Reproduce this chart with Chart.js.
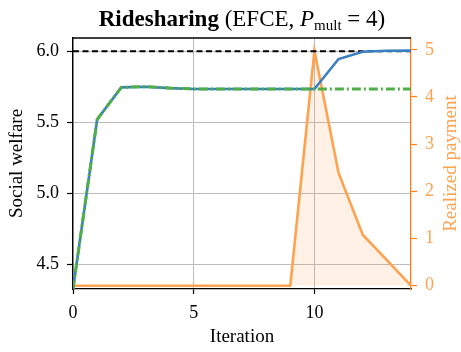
<!DOCTYPE html>
<html>
<head>
<meta charset="utf-8">
<script src="https://cdn.jsdelivr.net/npm/chart.js@4/dist/chart.umd.min.js"></script>
<style>
  html, body { margin:0; padding:0; background:#fff; }
  #wrap { position:relative; width:461px; height:352px; }
  #title { position:absolute; left:73px; width:338px; top:6px; text-align:center;
           font-family:"Liberation Serif", serif; font-size:23px; color:#000; white-space:nowrap; }
  #title sub { font-size:15px; vertical-align:-4px; line-height:0; }
</style>
</head>
<body>
<div id="wrap">
  <canvas id="c" width="461" height="352"></canvas>
  <div id="title"><b>Ridesharing</b> (EFCE, <i>P</i><sub>mult</sub> = 4)</div>
</div>
<script>
// données
const iterations = [0,1,2,3,4,5,6,7,8,9,10,11,12,13,14];
const welfare      = [4.326,5.52,5.746,5.751,5.741,5.735,5.735,5.735,5.735,5.735,5.735,5.946,5.997,6.004,6.005];
const welfareNoPay = [4.326,5.52,5.746,5.751,5.741,5.735,5.735,5.735,5.735,5.735,5.735,5.735,5.735,5.735,5.735];
const payment      = [0,0,0,0,0,0,0,0,0,0,4.98,2.39,1.08,0.54,0];
const optimum = 6.0;
const welfareTicks = [4.5, 5.0, 5.5, 6.0];

const pts = arr => iterations.map((x,i)=>({x:x, y:arr[i]}));
const serif = "'Liberation Serif', serif";
const ORANGE = '#ff7f0e', ORANGE_L = '#ffa24f';

// titres des axes + cadre du haut
const axisTitles = {
  id:'axisTitles',
  afterDraw(chart) {
    const ctx = chart.ctx, a = chart.chartArea;
    ctx.save();
    ctx.strokeStyle = '#000'; ctx.lineWidth = 1.3;
    ctx.beginPath(); ctx.moveTo(a.left, a.top); ctx.lineTo(a.right, a.top); ctx.stroke();
    ctx.font = "19px " + serif;
    ctx.textAlign = 'center'; ctx.textBaseline = 'middle';
    ctx.fillStyle = '#000';
    ctx.fillText('Iteration', (a.left+a.right)/2, 337);
    const cy = (a.top+a.bottom)/2;
    ctx.save(); ctx.translate(17.5, cy); ctx.rotate(-Math.PI/2);
    ctx.fillText('Social welfare', 0, 0); ctx.restore();
    ctx.fillStyle = ORANGE_L;
    ctx.save(); ctx.translate(451, cy); ctx.rotate(-Math.PI/2);
    ctx.fillText('Realized payment', 0, 0); ctx.restore();
    ctx.restore();
  }
};

new Chart(document.getElementById('c'), {
  type:'line',
  data:{
    datasets:[
      {data:pts(payment), yAxisID:'y2', borderColor:ORANGE_L, borderWidth:2.6,
       backgroundColor:'rgba(255,150,60,0.13)', fill:'origin', pointRadius:0, tension:0, order:4},
      {data:iterations.map(x=>({x:x, y:optimum})), yAxisID:'y', borderColor:'#000', borderWidth:2,
       borderDash:[6,3.5], pointRadius:0, fill:false, order:3},
      {data:pts(welfare), yAxisID:'y', borderColor:'#3a7fc1', borderWidth:2.6, pointRadius:0, fill:false, order:2},
      {data:pts(welfareNoPay), yAxisID:'y', borderColor:'#4fae48', borderWidth:3, borderDash:[9,3,2,3],
       pointRadius:0, fill:false, order:1}
    ]
  },
  options:{
    responsive:false, animation:false,
    layout:{ padding:{top:38, left:0, right:0, bottom:0} },
    plugins:{ legend:{display:false}, tooltip:{enabled:false}, title:{display:false} },
    scales:{
      x:{ type:'linear', min:0, max:14,
          afterFit:s=>{ s.height = 63; },
          ticks:{ stepSize:5, includeBounds:false, color:'#000', font:{family:serif, size:18}, padding:8, maxRotation:0 },
          grid:{ color:'#bdbdbd', lineWidth:1, tickColor:'#000', tickLength:5, tickWidth:1.2 },
          border:{ color:'#000', width:1.3 } },
      y:{ position:'left', min:4.326, max:6.094,
          afterFit:s=>{ s.width = 73; },
          afterBuildTicks:s=>{ s.ticks = welfareTicks.map(v=>({value:v})); },
          ticks:{ color:'#000', font:{family:serif, size:18}, padding:8, callback:v=>v.toFixed(1) },
          grid:{ color:'#bdbdbd', lineWidth:1, tickColor:'#000', tickLength:6, tickWidth:1.2 },
          border:{ color:'#000', width:1.3 } },
      y2:{ position:'right', min:-0.07, max:5.25,
          afterFit:s=>{ s.width = 50; },
          ticks:{ stepSize:1, includeBounds:false, color:ORANGE_L, font:{family:serif, size:18}, padding:8 },
          grid:{ drawOnChartArea:false, tickColor:ORANGE, tickLength:6, tickWidth:1.2 },
          border:{ color:ORANGE, width:1.3 } }
    }
  },
  plugins:[axisTitles]
});
</script>
</body>
</html>
